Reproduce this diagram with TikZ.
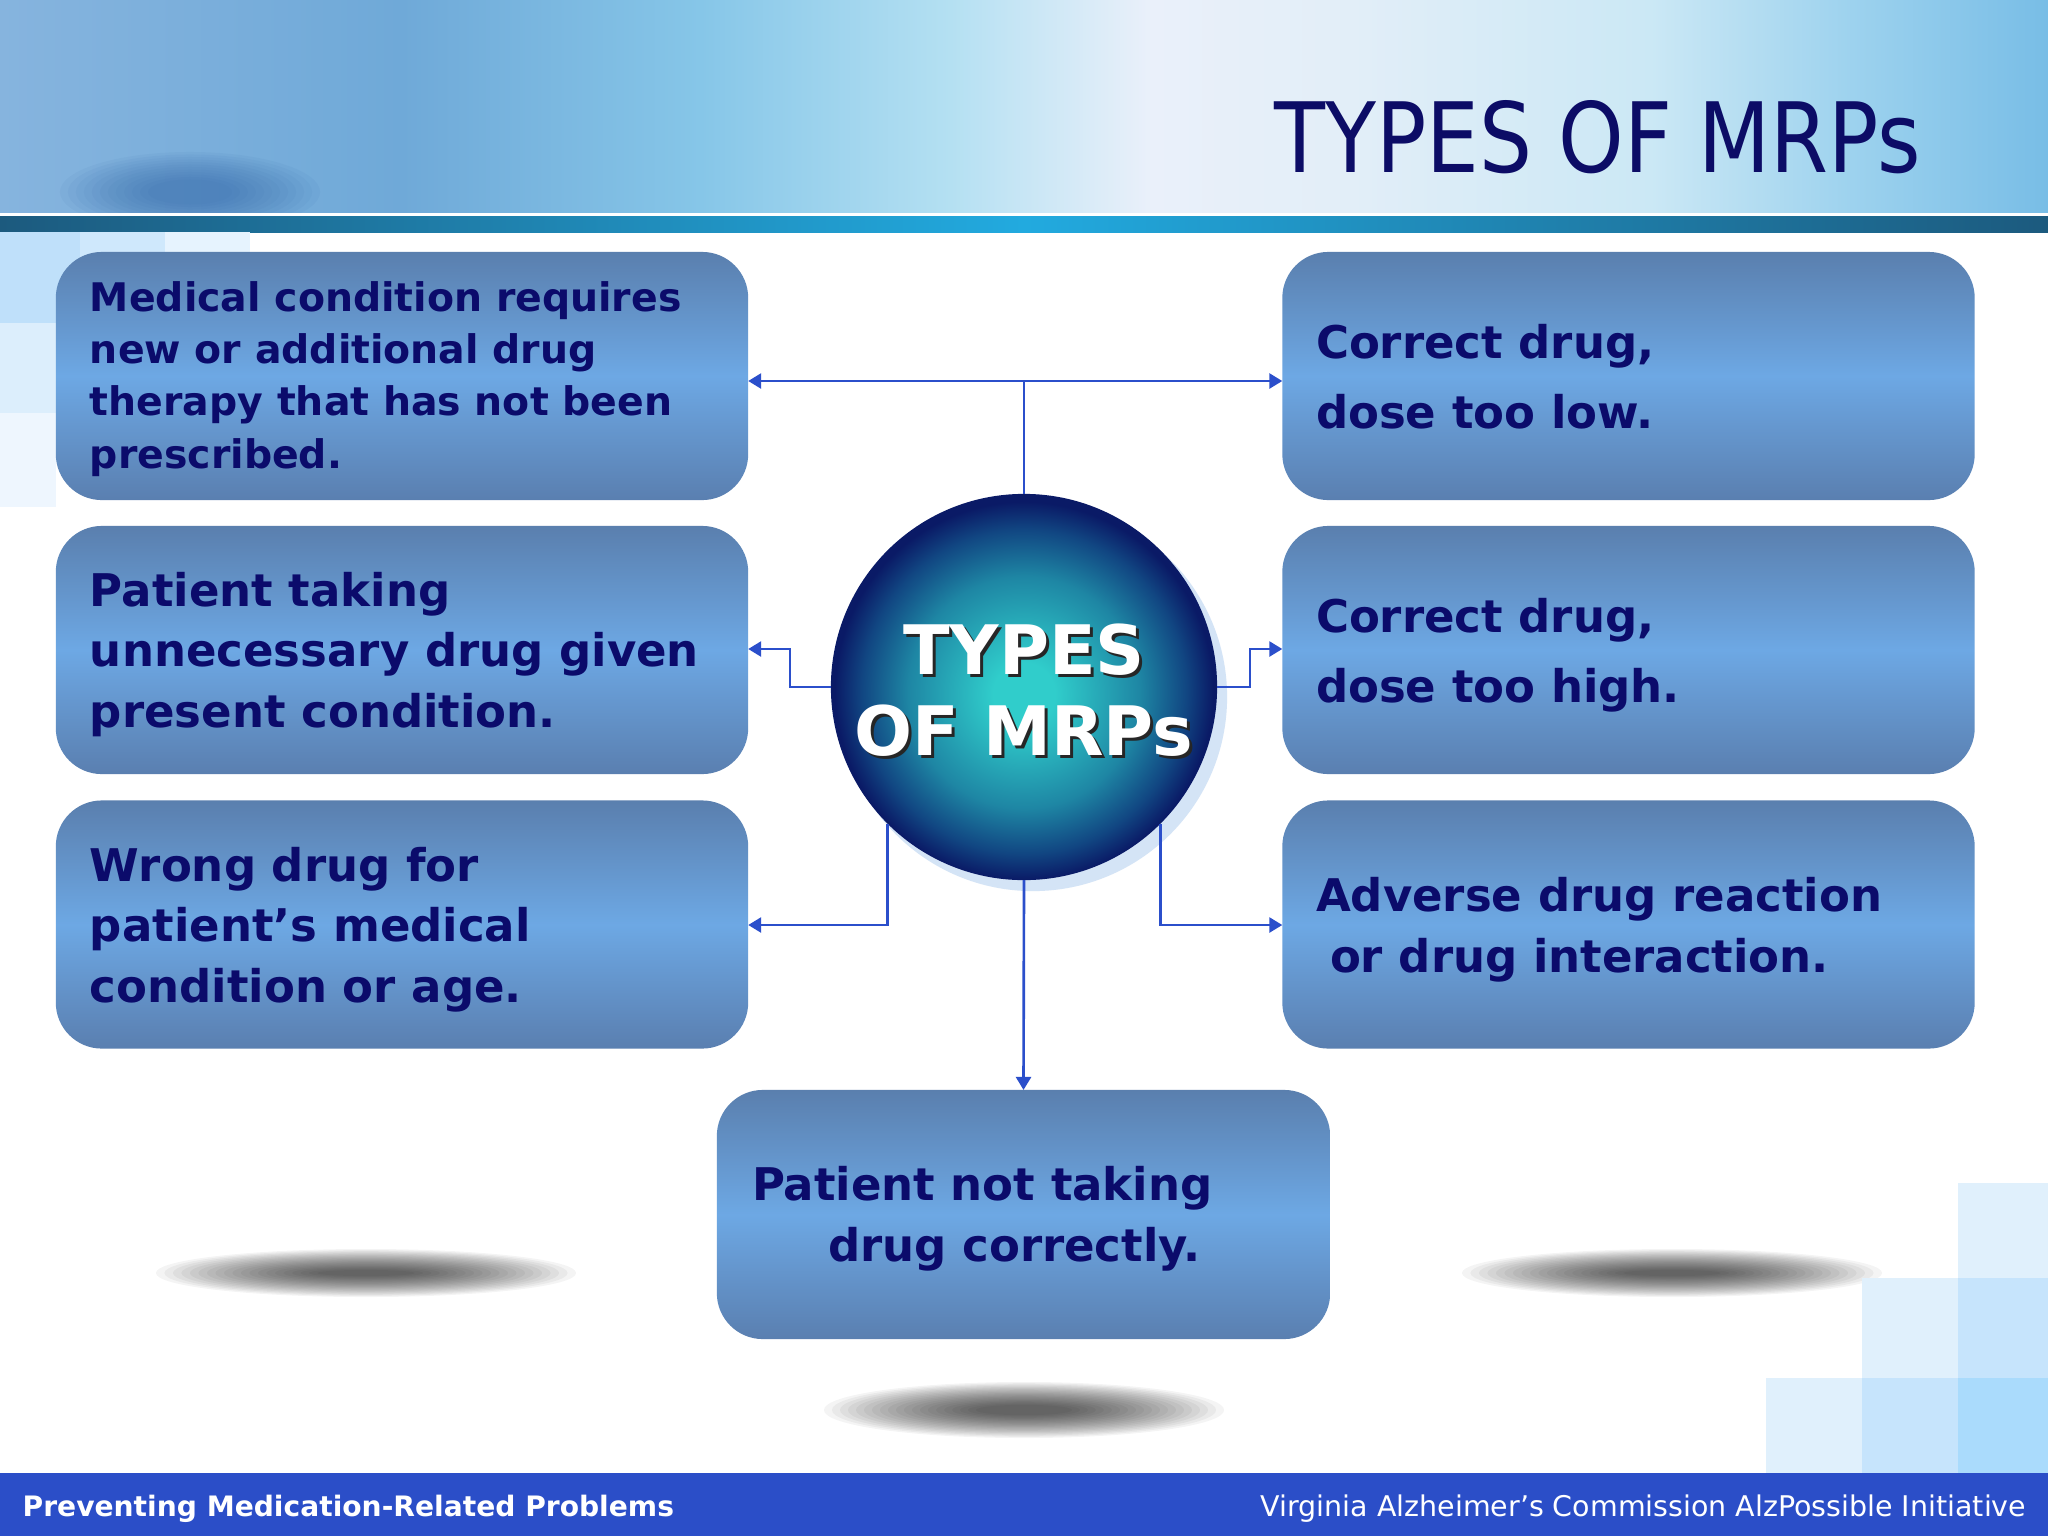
\documentclass[tikz,border=0pt]{standalone}
\usepackage{fontspec}
\setmainfont{DejaVu Sans}
\newfontfamily\titlefont[FakeStretch=0.86]{DejaVu Sans}
\usetikzlibrary{arrows.meta,calc}
\definecolor{navytxt}{HTML}{0B0B6B}
\definecolor{titlenavy}{HTML}{0C0C66}
\definecolor{boxtop}{HTML}{5A7FAE}
\definecolor{boxmid}{HTML}{6DA8E4}
\definecolor{boxbot}{HTML}{5A7FB0}
\definecolor{connblue}{HTML}{2B4FCB}
\definecolor{footblue}{HTML}{2B4EC8}
\definecolor{shadblue}{HTML}{D4E4F6}
\definecolor{h0}{HTML}{86B4DE}
\definecolor{h1}{HTML}{6FA9D8}
\definecolor{h2}{HTML}{86C6E8}
\definecolor{h3}{HTML}{B4E0F2}
\definecolor{h4}{HTML}{EAF0FA}
\definecolor{h5}{HTML}{E2EEF8}
\definecolor{h6}{HTML}{CBE8F5}
\definecolor{h7}{HTML}{9DD2EE}
\definecolor{h8}{HTML}{78BDE6}
\definecolor{b0}{HTML}{1C5A7E}
\definecolor{b1}{HTML}{22AADF}
\definecolor{ballc}{HTML}{30CDCB}
\definecolor{ballm}{HTML}{1E86A4}
\definecolor{balld}{HTML}{114682}
\definecolor{balle}{HTML}{0A1A66}
\definecolor{blobc}{HTML}{2F64A6}
\definecolor{sqa}{HTML}{E0F0FC}
\definecolor{sqb}{HTML}{C6E4FC}
\definecolor{sqc}{HTML}{AADBFC}
\definecolor{sqd}{HTML}{BFE0FA}
\definecolor{sqe}{HTML}{CFE8FC}
\definecolor{sqf}{HTML}{E6F3FE}
\definecolor{sqg}{HTML}{DCEEFC}
\definecolor{sqh}{HTML}{EEF6FE}
\pgfdeclarehorizontalshading{hdr}{100bp}{color(0bp)=(h0); color(25bp)=(h0); color(34.8bp)=(h1); color(42.1bp)=(h2); color(48.2bp)=(h3); color(53.1bp)=(h4); color(58bp)=(h5); color(65.3bp)=(h6); color(70.2bp)=(h7); color(75bp)=(h8); color(100bp)=(h8)}
\pgfdeclarehorizontalshading{band}{100bp}{color(0bp)=(b0); color(25bp)=(b0); color(50bp)=(b1); color(75bp)=(b0); color(100bp)=(b0)}
\pgfdeclareradialshading{mrpball}{\pgfpoint{0bp}{-1bp}}{color(0bp)=(ballc); color(4bp)=(ballc); color(15bp)=(ballm); color(21bp)=(balld); color(24.5bp)=(balle); color(50bp)=(balle)}
\begin{document}
\begin{tikzpicture}[x=0.01cm,y=-0.01cm,
  lbox/.style={rectangle, rounded corners=0.46cm, minimum width=6.92cm, minimum height=2.48cm, inner sep=0pt, outer sep=0pt, top color=boxtop, bottom color=boxbot, middle color=boxmid},
  ltxt/.style={anchor=base west, inner sep=0pt, outer sep=0pt, text=navytxt, align=left, font=\bfseries\fontsize{12.8}{17.1}\selectfont},
  conn/.style={draw=connblue, line width=0.75pt},
  arr/.style={conn, -{Triangle[length=0.13cm,width=0.15cm]}},
  ftxt/.style={inner sep=0pt, text=white},
]
\useasboundingbox (0,0) rectangle (2048,1536);
\fill[white] (0,0) rectangle (2048,1536);
% header
\shade[shading=hdr] (0,0) rectangle (2048,213);
\begin{scope}
\clip (0,0) rectangle (2048,213);
\foreach \k in {0,...,11}
  \fill[blobc, fill opacity=0.06] (190,192) ellipse ({1.3cm-\k*0.08cm} and {0.40cm-\k*0.025cm});
\end{scope}
\fill[white] (0,213) rectangle (2048,216);
\shade[shading=band] (0,216) rectangle (2048,232);
\node[anchor=base east, inner sep=0pt, text=titlenavy, font=\titlefont\fontsize{27.6}{30}\selectfont] (title) at (1922,172) {TYPES OF MRPs};
% left decorative squares
\fill[sqd] (0,232) rectangle (80,323);
\fill[sqe] (80,232) rectangle (165,323);
\fill[sqf] (165,232) rectangle (250,290);
\fill[sqg] (0,323) rectangle (80,413);
\fill[sqh] (0,413) rectangle (56,507);
% shadows
\foreach \k in {0,...,19} {
  \fill[black, fill opacity=0.042] (366,1273) ellipse ({2.1cm-\k*0.085cm} and {0.24cm-\k*0.011cm});
  \fill[black, fill opacity=0.042] (1672,1273) ellipse ({2.1cm-\k*0.085cm} and {0.24cm-\k*0.011cm});
  \fill[black, fill opacity=0.042] (1024,1410) ellipse ({2.0cm-\k*0.08cm} and {0.28cm-\k*0.012cm});
}
% bottom-right squares
\fill[sqa] (1958,1183) rectangle (2048,1278);
\fill[sqa] (1862,1278) rectangle (1958,1378);
\fill[sqb] (1958,1278) rectangle (2048,1378);
\fill[sqa] (1766,1378) rectangle (1862,1473);
\fill[sqb] (1862,1378) rectangle (1958,1473);
\fill[sqc] (1958,1378) rectangle (2048,1473);
% footer
\fill[footblue] (0,1473) rectangle (2048,1536);
\node[ftxt, anchor=base west, font=\bfseries\fontsize{8.0}{10}\selectfont] (fl) at (22,1516) {Preventing Medication-Related Problems};
\node[ftxt, anchor=base east, font=\fontsize{8.1}{10}\selectfont] (fr) at (2027,1516) {Virginia Alzheimer’s Commission AlzPossible Initiative};
% boxes
\node[lbox] (l1) at (402,376) {};
\node[lbox] (l2) at (402,650) {};
\node[lbox] (l3) at (402,924.5) {};
\node[lbox] (r1) at (1628.5,376) {};
\node[lbox] (r2) at (1628.5,650) {};
\node[lbox] (r3) at (1628.5,924.5) {};
\node[lbox, minimum width=6.13cm, minimum height=2.49cm] (b) at (1023.5,1214.5) {};
% box texts (anchor = baseline of last line)
\node[ltxt, font=\bfseries\fontsize{11.2}{14.8}\selectfont] (t1) at (90,468) {Medical condition requires\\new or additional drug\\therapy that has not been\\prescribed.};
\node[ltxt] (t2) at (90,727) {Patient taking\\unnecessary drug given\\present condition.};
\node[ltxt] (t3) at (90,1002) {Wrong drug for\\patient’s medical\\condition or age.};
\node[ltxt, font=\bfseries\fontsize{12.8}{19.9}\selectfont] (t4) at (1316,428) {Correct drug,\\dose too low.};
\node[ltxt, font=\bfseries\fontsize{12.8}{19.9}\selectfont] (t5) at (1316,702) {Correct drug,\\dose too high.};
\node[ltxt] (t6) at (1316,972) {Adverse drug reaction\\\hspace*{0.14cm}or drug interaction.};
\node[ltxt] (t7) at (752,1261) {Patient not taking\\\hspace*{0.76cm}drug correctly.};
% central circle
\fill[shadblue] (1033,697) circle (1.94cm);
\node[circle, minimum size=3.86cm, inner sep=0pt, outer sep=0pt, shading=mrpball] (c) at (1024,687) {};
\node[anchor=base, inner sep=0pt, text=black!85, align=center, font=\bfseries\fontsize{19.4}{22.8}\selectfont] (cts) at (1027,758) {TYPES\\OF MRPs};
\node[anchor=base, inner sep=0pt, text=white, align=center, font=\bfseries\fontsize{19.4}{22.8}\selectfont] (ct) at (1024,755) {TYPES\\OF MRPs};
% connectors
\coordinate (jt) at (1024,381);
\coordinate (ml) at (790,649);
\coordinate (mr) at (1250,649);
\coordinate (bl) at (888,925);
\draw[conn] (c.north) -- (jt);
\draw[arr] (jt) -- (jt -| l1.east);
\draw[arr] (jt) -- (jt -| r1.west);
\draw[arr] (c.west) -| (ml) -- (ml -| l2.east);
\draw[arr] (c.east) -| (mr) -- (mr -| r2.west);
\draw[arr] (c.-135) |- (bl -| l3.east);
\draw[arr] (c.-45) |- (bl -| r3.west);
\draw[arr] (c.south) -- (b.north);
\end{tikzpicture}
\end{document}
